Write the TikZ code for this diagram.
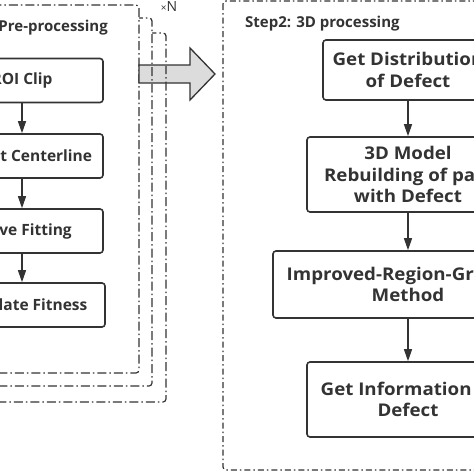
\documentclass[tikz,border=0pt]{standalone}
\usepackage{fontspec}
\setmainfont{Open Sans}
\newfontfamily\widefont{Open Sans}[FakeStretch=1.07]
\usetikzlibrary{arrows.meta}
\definecolor{linegray}{HTML}{333333}
\definecolor{textgray}{HTML}{333333}
\definecolor{arrowfill}{HTML}{DCDCDC}
\tikzset{
procbox/.style={ % Sets the properties for each processing step
draw=linegray,
line width=1.6pt,
rounded corners=3pt,
fill=white,
align=center,
inner sep=0pt,
text=textgray,
font=\bfseries\fontsize{15.5}{20.5}\selectfont},
bigbox/.style={procbox,
font=\widefont\bfseries\fontsize{17.5}{21.5}\selectfont},
steplabel/.style={text=textgray, inner sep=0pt,
font=\bfseries\fontsize{15}{17}\selectfont},
loopframe/.style={ % Dash-dot frames of step 1
draw=linegray,
line width=1.2pt,
rounded corners=3pt,
dash pattern=on 9pt off 3pt on 1.5pt off 3pt},
stepframe/.style={ % Dash-dot frame of step 2
draw=linegray,
line width=1.2pt,
rounded corners=3pt,
dash pattern=on 6pt off 3pt on 1.5pt off 3pt},
flow/.style={ % Arrows between the steps
draw=linegray,
line width=1.3pt,
-{Triangle[length=12pt,width=8pt]}}}

\begin{document}
\begin{tikzpicture}[x=1pt,y=-1pt]
\useasboundingbox (0,0) rectangle (474,474);
\clip (0,0) rectangle (474,474);
% stacked frames, the front one last
\draw[loopframe, fill=white] (-100,33) rectangle (166,402);
\draw[loopframe, fill=white] (-100,18) rectangle (152,386);
\draw[loopframe, fill=white] (-100,5) rectangle (139,373);
% big arrow from step 1 to step 2
\draw[linegray, line width=1.3pt, fill=arrowfill] (139,65) -- (190,65) -- (190,48)
  -- (215,74) -- (190,100) -- (190,83) -- (139,83) -- cycle;
\begin{scope}
\clip (140,66) rectangle (189,82);
\draw[loopframe] (-100,33) rectangle (166,402);
\draw[loopframe] (-100,18) rectangle (152,386);
\end{scope}
\draw[stepframe] (223,1) rectangle (520,470);
\node[text=textgray, font=\fontsize{14}{16}\selectfont, inner sep=0pt] (times) at (169,7) {{\fontsize{10}{11}\selectfont ×}N};
% step 1
\node[steplabel, anchor=east] (step1) at (108,28) {Step1: Pre-processing};
\node[procbox, minimum width=162pt, minimum height=44pt] (roi) at (22,80.5) {ROI Clip};
\node[procbox, minimum width=162pt, minimum height=44pt] (centerline) at (22,156) {Extract Centerline};
\node[procbox, minimum width=162pt, minimum height=44pt] (curve) at (22,231) {Curve Fitting};
\node[procbox, minimum width=166pt, minimum height=44pt] (fitness) at (22,305) {Calculate Fitness};
\draw[flow] (roi) -- (centerline);
\draw[flow] (centerline) -- (curve);
\draw[flow] (curve) -- (fitness);
% step 2
\node[steplabel, anchor=west] (step2) at (245,24) {Step2: 3D processing};
\node[bigbox, minimum width=170pt, minimum height=60pt] (distribution) at (408,70) {Get Distribution\\of Defect};
\node[bigbox, minimum width=202pt, minimum height=75pt] (model) at (408,174.5) {3D Model\\Rebuilding of part\\with Defect};
\node[bigbox, minimum width=270pt, minimum height=67pt] (growing) at (408,284.5) {Improved-Region-Growing\\Method};
\node[bigbox, minimum width=202pt, minimum height=75pt] (information) at (408,399.5) {Get Information of\\Defect};
\draw[flow] (distribution) -- (model);
\draw[flow] (model) -- (growing);
\draw[flow] (growing) -- (information);
\end{tikzpicture}
\end{document}
